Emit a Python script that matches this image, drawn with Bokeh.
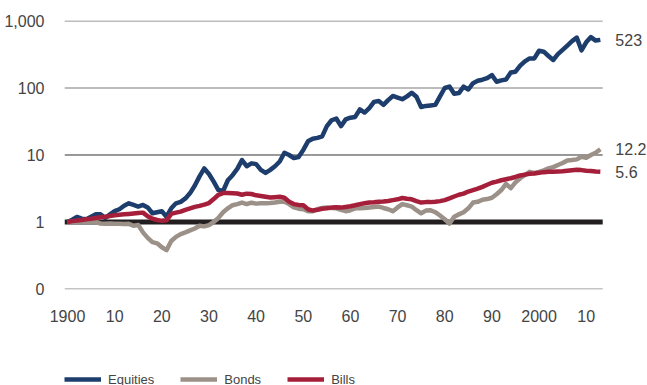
from bokeh.plotting import figure
from bokeh.layouts import column
from bokeh.models import Range1d, FixedTicker, Label, Legend, LegendItem
from bokeh.embed import file_html
from bokeh.resources import INLINE

years = list(range(1900, 2014))

equities = [
    1.0, 1.08, 1.19, 1.12, 1.1, 1.2, 1.3, 1.3, 1.15, 1.3,
    1.45, 1.55, 1.75, 1.9, 1.8, 1.7, 1.8, 1.65, 1.35, 1.4,
    1.45, 1.2, 1.6, 1.9, 2.0, 2.25, 2.7, 3.5, 4.8, 6.3,
    5.2, 4.0, 3.0, 2.9, 4.2, 5.0, 6.2, 8.4, 6.8, 7.5,
    7.3, 6.0, 5.4, 6.0, 6.8, 8.0, 10.8, 10.0, 9.0, 9.3,
    11.9, 16.0, 17.5, 18.0, 19.0, 27, 33, 35, 27, 34,
    36, 37, 48, 43, 50, 62, 64, 56, 66, 76,
    72, 68, 75, 85, 74, 52, 54, 55, 56, 75,
    100, 105, 82, 84, 105, 95, 118, 128, 133, 140,
    156, 124, 130, 134, 170, 175, 215, 250, 276, 276,
    360, 348, 300, 262, 320, 370, 430, 500, 565, 365,
    480, 575, 510, 523,
]

bonds = [
    1.0, 1.0, 0.99, 1.0, 1.0, 1.02, 1.0, 0.95, 0.94, 0.95,
    0.94, 0.94, 0.93, 0.94, 0.88, 0.9, 0.7, 0.58, 0.5, 0.48,
    0.42, 0.38, 0.52, 0.6, 0.66, 0.7, 0.75, 0.8, 0.88, 0.86,
    0.9, 1.0, 1.15, 1.4, 1.6, 1.78, 1.85, 1.95, 1.85, 1.94,
    1.88, 1.9, 1.9, 1.92, 1.95, 2.0, 2.0, 1.85, 1.65, 1.58,
    1.55, 1.45, 1.45, 1.55, 1.62, 1.65, 1.62, 1.6, 1.52, 1.45,
    1.5, 1.6, 1.6, 1.62, 1.65, 1.68, 1.7, 1.62, 1.55, 1.45,
    1.65, 1.85, 1.78, 1.7, 1.5, 1.35, 1.48, 1.5, 1.4, 1.25,
    1.1, 0.95, 1.2, 1.3, 1.4, 1.6, 1.95, 2.0, 2.15, 2.2,
    2.3, 2.6, 3.0, 3.7, 3.2, 3.9, 4.5, 5.0, 5.6, 5.4,
    5.6, 5.9, 6.3, 6.6, 7.1, 7.6, 8.3, 8.4, 8.6, 9.4,
    9.1, 10.0, 10.8, 12.2,
]

bills = [
    1.0, 1.03, 1.05, 1.07, 1.1, 1.12, 1.15, 1.18, 1.2, 1.23,
    1.26, 1.28, 1.3, 1.32, 1.34, 1.36, 1.38, 1.22, 1.12, 1.07,
    1.04, 1.06, 1.32, 1.38, 1.43, 1.52, 1.6, 1.68, 1.74, 1.82,
    1.92, 2.2, 2.55, 2.7, 2.7, 2.68, 2.66, 2.55, 2.65, 2.62,
    2.5, 2.45, 2.38, 2.32, 2.35, 2.38, 2.3, 2.0, 1.85, 1.8,
    1.78, 1.55, 1.48, 1.52, 1.58, 1.6, 1.64, 1.66, 1.64, 1.68,
    1.72, 1.78, 1.85, 1.9, 1.95, 1.97, 2.0, 2.02, 2.06, 2.12,
    2.18, 2.28, 2.22, 2.18, 2.05, 1.95, 1.98, 1.98, 2.0, 2.05,
    2.12, 2.25, 2.4, 2.55, 2.65, 2.85, 3.0, 3.15, 3.35, 3.6,
    3.85, 4.0, 4.2, 4.35, 4.5, 4.7, 4.95, 5.1, 5.25, 5.3,
    5.45, 5.55, 5.6, 5.62, 5.65, 5.7, 5.8, 5.9, 6.0, 5.95,
    5.8, 5.75, 5.65, 5.6,
]

series_names = ["Equities", "Bonds", "Bills"]
series_colors = ["#1d3d6c", "#9c9189", "#a51f3a"]
series_data = [equities, bonds, bills]

y_ticks = [0.1, 1, 10, 100, 1000]
y_tick_labels = ["0", "1", "10", "100", "1,000"]
grid_colors = ["#8a8a8a", "#231f20", "#333333", "#7a7a7a", "#7a7a7a"]
grid_widths = [1.2, 5, 1, 1.2, 1.2]
x_ticks = list(range(1900, 2011, 10))
x_tick_labels = ["1900", "10", "20", "30", "40", "50", "60", "70", "80", "90", "2000", "10"]

X_START, GRID_END, X_END = 1899.36, 2013.5, 2023.0

FONT = "Liberation Sans"
TEXT_COLOR = "#444444"

# ---------------- main chart ----------------
p = figure(width=647, height=330, y_axis_type="log",
           x_range=Range1d(X_START, X_END), y_range=Range1d(0.0983, 1017),
           output_backend="svg", toolbar_location=None,
           min_border_left=64, min_border_right=0, min_border_top=20, min_border_bottom=41)
p.outline_line_color = None
p.background_fill_color = "white"
p.xgrid.visible = False
p.ygrid.visible = False

p.yaxis.ticker = FixedTicker(ticks=y_ticks)
p.yaxis.major_label_overrides = {t: l for t, l in zip(y_ticks, y_tick_labels)}
p.xaxis.ticker = FixedTicker(ticks=x_ticks)
p.xaxis.major_label_overrides = {t: l for t, l in zip(x_ticks, x_tick_labels)}
for ax in (p.xaxis, p.yaxis):
    ax.axis_line_color = None
    ax.major_tick_line_color = None
    ax.minor_tick_line_color = None
    ax.major_label_text_font = FONT
    ax.major_label_text_font_size = "16px"
    ax.major_label_text_color = TEXT_COLOR
p.yaxis.major_label_standoff = 14
p.xaxis.major_label_standoff = 14

# horizontal gridlines, ending where the data ends
p.segment(x0=[X_START] * len(y_ticks), y0=y_ticks, x1=[GRID_END] * len(y_ticks), y1=y_ticks,
          line_color=grid_colors, line_width=grid_widths)

for name, data, color in zip(series_names, series_data, series_colors):
    p.line(years, data, line_color=color, line_width=4.5, line_join="round")
    p.add_layout(Label(x=years[-1], y=data[-1], text=f"{data[-1]:g}", x_offset=15,
                       text_baseline="middle", text_font=FONT, text_font_size="16px",
                       text_color=TEXT_COLOR))

# ---------------- legend strip ----------------
q = figure(width=647, height=55, x_range=Range1d(0, 1), y_range=Range1d(0, 1),
           output_backend="svg", toolbar_location=None,
           x_axis_location=None, y_axis_location=None,
           min_border_left=0, min_border_right=0, min_border_top=0, min_border_bottom=0)
q.outline_line_color = None
q.xgrid.visible = False
q.ygrid.visible = False
items = []
for name, data, color in zip(series_names, series_data, series_colors):
    # same series, outside this strip's view: only its legend entry shows
    r = q.line(years, data, line_color=color, line_width=4.5)
    items.append(LegendItem(label=name, renderers=[r]))

legend = Legend(items=items, orientation="horizontal", location=(0, -3),
                glyph_width=37, glyph_height=18, label_standoff=7, spacing=26,
                padding=0, margin=0, border_line_color=None, background_fill_alpha=0,
                label_text_font=FONT, label_text_font_size="13px",
                label_text_color=TEXT_COLOR)
q.add_layout(legend)

layout = column(p, q, spacing=0)
open("out.html", "w").write(file_html(layout, INLINE))
